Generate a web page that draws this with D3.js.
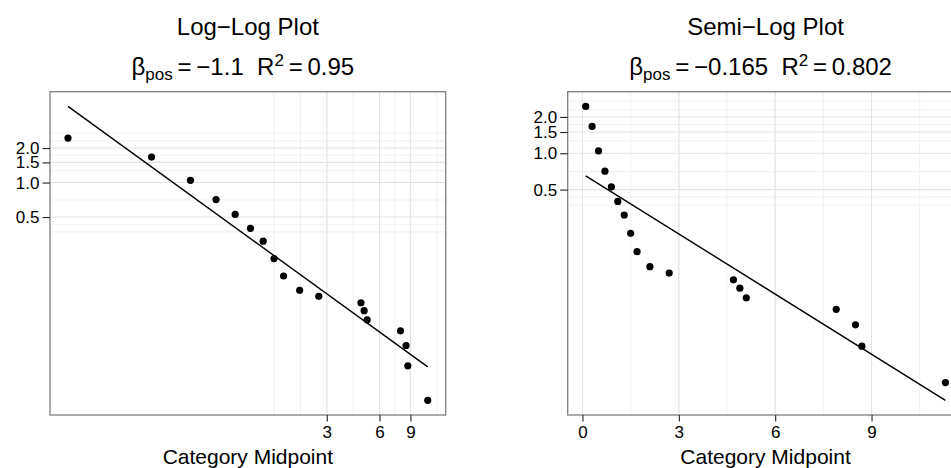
<!DOCTYPE html>
<html><head><meta charset="utf-8">
<script src="https://cdn.jsdelivr.net/npm/d3@7"></script>
<style>
body{margin:0;background:#fff;}
text{font-family:"Liberation Sans", Arial, Helvetica, sans-serif;fill:#000;}
</style>
</head><body>
<svg id="c" width="951" height="468"></svg>
<script>
// ---- data ----
const midpoints = [0.1,0.3,0.5,0.7,0.9,1.1,1.3,1.5,1.7,2.1,2.7,4.7,4.9,5.1,7.9,8.5,8.7,11.3];
const density   = [2.445,1.670,1.046,0.710,0.527,0.399,0.308,0.217,0.153,0.115,0.1017,0.0894,0.0762,0.0635,0.0509,0.0379,0.0252,0.0126];
const xTicksLog = [3,6,9];
const xTicksLinear = [0,3,6,9];
const yTicks = [0.5,1,1.5,2];
const yTickLabels = ["0.5","1.0","1.5","2.0"];
const yMinorBreaks = [0.371,0.433,0.705,1.27,1.73,2.3,2.71];
const titles = ["Log\u2212Log Plot","Semi\u2212Log Plot"];
const betaLabels = ["\u22121.1","\u22120.165"];
const r2Labels = ["0.95","0.802"];
const xAxisTitle = "Category Midpoint";

const svg = d3.select("#c");
svg.append("rect").attr("width",951).attr("height",468).attr("fill","#fff");

const panelTop = 91.7, panelBottom = 415, panelW = 395.7;

function lm(xs, ys){
  const mx = d3.mean(xs), my = d3.mean(ys);
  let sxy=0, sxx=0;
  xs.forEach((x,i)=>{ sxy += (x-mx)*(ys[i]-my); sxx += (x-mx)*(x-mx); });
  const b = sxy/sxx; return {a: my - b*mx, b};
}
function expand(ext){ const d=(ext[1]-ext[0])*0.05; return [ext[0]-d, ext[1]+d]; }
function ggMinor(majT, lim){
  let b = majT.filter(v=>v>=lim[0] && v<=lim[1]).slice();
  const bd = b[1]-b[0];
  if (lim[0] < b[0]) b.unshift(b[0]-bd);
  if (lim[1] > b[b.length-1]) b.push(b[b.length-1]+bd);
  const out=[];
  for (let i=0;i<b.length-1;i++){ out.push(b[i], (b[i]+b[i+1])/2); }
  out.push(b[b.length-1]);
  return out.filter(v=>v>=lim[0] && v<=lim[1]);
}

function drawPanel(idx, x0, logX){
  const g = svg.append("g");
  const tx = logX ? Math.log : (v=>v);
  const ux = logX ? Math.exp : (v=>v);
  const xsT = midpoints.map(tx);
  const ysT = density.map(Math.log);
  const fit = lm(xsT, ysT);
  const xExt = d3.extent(xsT);
  const fitY = xExt.map(v=>fit.a + fit.b*v);
  const xLimT = expand(xExt);
  const yLimT = expand(d3.extent(ysT.concat(fitY)));

  const x = (logX ? d3.scaleLog() : d3.scaleLinear())
      .domain(xLimT.map(ux)).range([x0, x0+panelW]);
  const y = d3.scaleLog().domain(yLimT.map(Math.exp)).range([panelBottom, panelTop]);

  const clipId = "clip"+idx;
  svg.append("clipPath").attr("id",clipId).append("rect")
     .attr("x",x0).attr("y",panelTop).attr("width",panelW).attr("height",panelBottom-panelTop);
  const pg = g.append("g").attr("clip-path","url(#"+clipId+")");

  const xMajors = logX ? xTicksLog : xTicksLinear;
  const xMinors = ggMinor(xMajors.map(tx), xLimT).map(ux);

  // minor grid
  pg.selectAll(".xmin").data(xMinors).join("line")
    .attr("x1",d=>x(d)).attr("x2",d=>x(d)).attr("y1",panelTop).attr("y2",panelBottom)
    .attr("stroke","#f2f2f2").attr("stroke-width",1.1);
  pg.selectAll(".ymin").data(yMinorBreaks).join("line")
    .attr("x1",x0).attr("x2",x0+panelW).attr("y1",d=>y(d)).attr("y2",d=>y(d))
    .attr("stroke","#f2f2f2").attr("stroke-width",1.1);
  // major grid
  pg.selectAll(".xmaj").data(xMajors).join("line")
    .attr("x1",d=>x(d)).attr("x2",d=>x(d)).attr("y1",panelTop).attr("y2",panelBottom)
    .attr("stroke","#e3e3e3").attr("stroke-width",1.1);
  pg.selectAll(".ymaj").data(yTicks).join("line")
    .attr("x1",x0).attr("x2",x0+panelW).attr("y1",d=>y(d)).attr("y2",d=>y(d))
    .attr("stroke","#e3e3e3").attr("stroke-width",1.1);

  // fit line
  const ends = xExt.map((v,i)=>[ux(v), Math.exp(fitY[i])]);
  pg.append("path").datum(ends)
    .attr("d", d3.line().x(d=>x(d[0])).y(d=>y(d[1])))
    .attr("fill","none").attr("stroke","#000").attr("stroke-width",1.4);

  // points
  pg.selectAll(".pt").data(midpoints).join("circle")
    .attr("cx",d=>x(d)).attr("cy",(d,i)=>y(density[i])).attr("r",3.6).attr("fill","#000");

  // border
  g.append("rect").attr("x",x0).attr("y",panelTop).attr("width",panelW).attr("height",panelBottom-panelTop)
    .attr("fill","none").attr("stroke","#7f7f7f").attr("stroke-width",1.3);

  // x axis
  const xa = g.append("g").attr("transform","translate(0,"+panelBottom+")")
    .call(d3.axisBottom(x).tickValues(xMajors).tickFormat(d3.format("d")).tickSize(6.5).tickPadding(4));
  xa.select(".domain").remove();
  xa.selectAll("line").attr("stroke","#222").attr("stroke-width",1.1);
  xa.selectAll("text").attr("font-size",17).attr("fill","#000")
    .attr("font-family","Liberation Sans, Arial, sans-serif");

  // y axis
  const ya = g.append("g").attr("transform","translate("+x0+",0)")
    .call(d3.axisLeft(y).tickValues(yTicks).tickFormat((d,i)=>yTickLabels[i]).tickSize(7.5).tickPadding(3));
  ya.select(".domain").remove();
  ya.selectAll("line").attr("stroke","#222").attr("stroke-width",1.1);
  ya.selectAll("text").attr("font-size",17).attr("fill","#000")
    .attr("font-family","Liberation Sans, Arial, sans-serif");

  const cx = x0 + panelW/2;
  // axis title
  g.append("text").attr("x",cx).attr("y",464).attr("text-anchor","middle")
    .attr("font-size",21).text(xAxisTitle);
  // title
  g.append("text").attr("x",cx).attr("y",35).attr("text-anchor","middle")
    .attr("font-size",24).text(titles[idx]);
  // subtitle with plotmath-like formatting
  const t = g.append("text").attr("x",cx - 5).attr("y",75).attr("text-anchor","middle").attr("font-size",24);
  t.append("tspan").text("\u03B2");
  t.append("tspan").attr("font-size",17).attr("dy",5).text("pos");
  t.append("tspan").attr("dy",-5).text("\u2009=\u2009" + betaLabels[idx] + "\u00A0\u00A0R");
  t.append("tspan").attr("font-size",17).attr("dy",-9).text("2");
  t.append("tspan").attr("dy",9).text("\u2009=\u2009" + r2Labels[idx]);
}

drawPanel(0, 50, true);
drawPanel(1, 567.7, false);
</script>
</body></html>
